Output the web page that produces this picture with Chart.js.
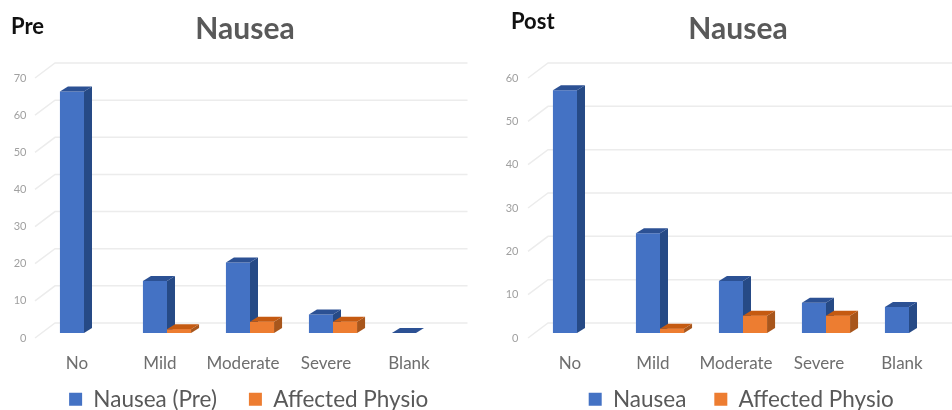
<!DOCTYPE html>
<html lang="en">
<head>
  <meta charset="UTF-8">
  <title>Nausea Pre and Post</title>
  <script src="https://cdn.jsdelivr.net/npm/chart.js"></script>
  <style>
    body { margin: 0; background: #fff; width: 952px; height: 410px; overflow: hidden; position: relative; font-family: Lato, sans-serif; }
    .box { position: absolute; top: 0; width: 476px; height: 410px; }
    .tag { position: absolute; font-weight: bold; font-size: 22px; color: #111; }
  </style>
</head>
<body>
  <div class="box" style="left:0"><canvas id="preChart" width="476" height="410"></canvas></div>
  <div class="box" style="left:476px"><canvas id="postChart" width="476" height="410"></canvas></div>
  <div class="tag" style="left:11px;top:12px">Pre</div>
  <div class="tag" style="left:511px;top:7px">Post</div>

  <script>
    const categories = ['No', 'Mild', 'Moderate', 'Severe', 'Blank'];

    const preNausea = [65, 14, 19, 5, 0];
    const preAffected = [null, 1, 3, 3, null];
    const postNausea = [56, 23, 12, 7, 6];
    const postAffected = [null, 1, 4, 4, null];

    const preMax = 70;
    const postMax = 60;

    const BLUE = '#4472c4', BLUE_SIDE = '#264a86', BLUE_TOP = '#2c5194';
    const ORANGE = '#ed7d31', ORANGE_SIDE = '#a8561c', ORANGE_TOP = '#c55a11';
    const DEPTH_X = 8, DEPTH_Y = 5;

    function poly(ctx, pts, color) {
      ctx.fillStyle = color;
      ctx.beginPath();
      pts.forEach((p, i) => i ? ctx.lineTo(p[0], p[1]) : ctx.moveTo(p[0], p[1]));
      ctx.closePath();
      ctx.fill();
    }

    function drawFaces(chart, index, side, top) {
      const ctx = chart.ctx;
      const values = chart.data.datasets[index].data;
      chart.getDatasetMeta(index).data.forEach((bar, i) => {
        if (values[i] === null) return;
        const l = bar.x - bar.width / 2, r = bar.x + bar.width / 2;
        poly(ctx, [[r, bar.y], [r + DEPTH_X, bar.y - DEPTH_Y], [r + DEPTH_X, bar.base - DEPTH_Y], [r, bar.base]], side);
        poly(ctx, [[l, bar.y], [l + DEPTH_X, bar.y - DEPTH_Y], [r + DEPTH_X, bar.y - DEPTH_Y], [r, bar.y]], top);
      });
    }

    // fake 3d look: back wall grid, then side and top faces on each bar
    const fake3d = {
      id: 'fake3d',
      afterLayout(chart, args, opts) {
        chart.titleBlock.left -= 5;
        chart.titleBlock.right -= 5;
        // legend clips to its box, so keep the whole row inside it
        chart.legend.top = 388 - chart.legend.options.labels.padding;
        chart.legend.bottom = 410;
        chart.legend.left += opts.legendShift;
        chart.legend.right += opts.legendShift;
      },
      beforeDatasetsDraw(chart) {
        const ctx = chart.ctx, area = chart.chartArea, y = chart.scales.y;
        ctx.save();
        ctx.strokeStyle = '#ececec';
        ctx.lineWidth = 1.5;
        y.ticks.forEach(t => {
          const py = y.getPixelForValue(t.value);
          ctx.beginPath();
          ctx.moveTo(area.left - 7.5, py + 5);
          ctx.lineTo(area.left + 12.5, py - 10);
          ctx.lineTo(area.right + 10, py - 10);
          ctx.stroke();
        });
        ctx.restore();
      },
      afterDatasetsDraw(chart) {
        // orange sits in front of the blue side face
        drawFaces(chart, 0, BLUE_SIDE, BLUE_TOP);
        chart.getDatasetMeta(1).data.forEach((bar, i) => {
          if (chart.data.datasets[1].data[i] !== null) bar.draw(chart.ctx);
        });
        drawFaces(chart, 1, ORANGE_SIDE, ORANGE_TOP);
      }
    };

    function createChart(canvasId, blueLabel, blueData, orangeData, maxValue, axisWidth, rightPad, tickPad, legendShift, legendGap) {
      return new Chart(document.getElementById(canvasId), {
        type: 'bar',
        data: {
          labels: categories,
          datasets: [
            { label: blueLabel, data: blueData, backgroundColor: BLUE, categoryPercentage: 0.58, barPercentage: 1 },
            { label: 'Affected Physio', data: orangeData, backgroundColor: ORANGE, categoryPercentage: 0.58, barPercentage: 1 }
          ]
        },
        options: {
          responsive: false,
          animation: false,
          layout: { autoPadding: false, padding: { left: 0, right: rightPad, top: 0, bottom: 0 } },
          plugins: {
            fake3d: { legendShift: legendShift },
            title: {
              display: true,
              text: 'Nausea',
              fullSize: false,
              color: '#595959',
              font: { family: 'Lato', size: 30, weight: 'bold' },
              padding: { top: 11, bottom: 26 }
            },
            legend: {
              position: 'bottom',
              maxHeight: 30,
              labels: {
                boxWidth: 13,
                boxHeight: 13,
                padding: legendGap,
                color: '#595959',
                font: { family: 'Lato', size: 22.5 }
              }
            },
            tooltip: { enabled: false }
          },
          scales: {
            x: {
              grid: { display: false },
              border: { display: false },
              afterFit(s) { s.height = 47; },
              ticks: {
                autoSkip: false,
                maxRotation: 0,
                labelOffset: -7,
                padding: 12,
                color: '#6e6e6e',
                font: { family: 'Lato', size: 17 }
              }
            },
            y: {
              min: 0,
              max: maxValue,
              grid: { display: false, drawTicks: false },
              border: { display: false },
              afterFit(s) { s.width = axisWidth; },
              ticks: {
                stepSize: 10,
                labelOffset: 5,
                padding: tickPad,
                color: '#a0a0a0',
                font: { family: 'Lato', size: 11 }
              }
            }
          }
        },
        plugins: [fake3d]
      });
    }

    createChart('preChart', 'Nausea (Pre)', preNausea, preAffected, preMax, 42.5, 18.5, 16, 20, 32);
    createChart('postChart', 'Nausea', postNausea, postAffected, postMax, 59.5, 1.5, 17, 28, 28);
  </script>
</body>
</html>
